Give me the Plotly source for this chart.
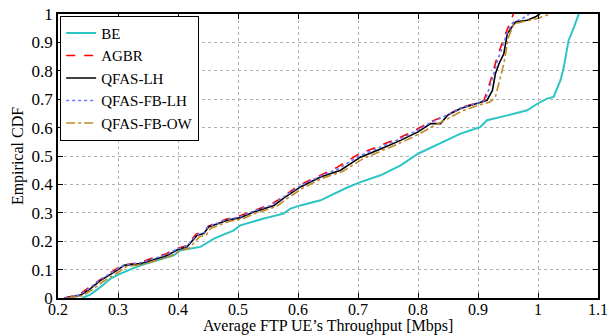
import plotly.graph_objects as go

# ---- Data ----
be_x = [0.24, 0.254, 0.271, 0.2875, 0.304, 0.3375, 0.365, 0.393, 0.404, 0.4375, 0.46, 0.493, 0.504,
        0.543, 0.576, 0.5875, 0.604, 0.6375, 0.682, 0.704, 0.7375, 0.771, 0.8, 0.8375, 0.871, 0.904,
        0.915, 0.949, 0.982, 0.999, 1.015, 1.026, 1.0375, 1.043, 1.051, 1.06, 1.068]
be_y = [0, 0.012, 0.039, 0.068, 0.086, 0.115, 0.133, 0.150, 0.168, 0.18, 0.209, 0.238, 0.256,
        0.28, 0.297, 0.315, 0.326, 0.344, 0.389, 0.408, 0.432, 0.467, 0.508, 0.544, 0.579, 0.602,
        0.626, 0.643, 0.661, 0.684, 0.702, 0.708, 0.767, 0.813, 0.907, 0.954, 1.0]

agbr_x = [0.21, 0.235, 0.25, 0.27, 0.295, 0.31, 0.335, 0.36, 0.38, 0.395, 0.415, 0.43, 0.445, 0.45,
          0.48, 0.5, 0.525, 0.555, 0.575, 0.6, 0.635, 0.665, 0.7, 0.735, 0.77, 0.795, 0.82, 0.85,
          0.87, 0.895, 0.91, 0.921, 0.932, 0.946, 0.959]
agbr_y = [0, 0.012, 0.035, 0.065, 0.1, 0.117, 0.124, 0.143, 0.155, 0.172, 0.185, 0.225, 0.235, 0.252,
          0.277, 0.287, 0.307, 0.33, 0.355, 0.395, 0.43, 0.46, 0.505, 0.535, 0.565, 0.59, 0.62, 0.645,
          0.67, 0.685, 0.696, 0.766, 0.849, 0.931, 1.0]

qlh_x = [0.2125, 0.2375, 0.254, 0.271, 0.299, 0.31, 0.3375, 0.365, 0.382, 0.399, 0.415, 0.432, 0.443,
         0.451, 0.482, 0.504, 0.526, 0.56, 0.575, 0.604, 0.6375, 0.671, 0.704, 0.7375, 0.771, 0.8,
         0.821, 0.8375, 0.849, 0.871, 0.899, 0.915, 0.924, 0.929, 0.935, 0.943, 0.949, 0.9625, 0.982,
         0.996, 1.003]
qlh_y = [0, 0.01, 0.033, 0.062, 0.098, 0.115, 0.121, 0.139, 0.150, 0.170, 0.18, 0.221, 0.227,
         0.25, 0.274, 0.283, 0.303, 0.326, 0.35, 0.391, 0.426, 0.45, 0.496, 0.525, 0.555, 0.585,
         0.614, 0.614, 0.643, 0.667, 0.684, 0.696, 0.731, 0.79, 0.825, 0.86, 0.931, 0.972, 0.978,
         0.99, 1.0]

qfblh_x = [0.211, 0.236, 0.252, 0.27, 0.297, 0.31, 0.336, 0.362, 0.381, 0.397, 0.415, 0.431, 0.444,
           0.45, 0.481, 0.502, 0.525, 0.557, 0.575, 0.602, 0.636, 0.667, 0.702, 0.736, 0.77, 0.797,
           0.82, 0.85, 0.87, 0.897, 0.912, 0.922, 0.934, 0.948, 0.958, 0.975, 0.985]
qfblh_y = [0, 0.011, 0.034, 0.064, 0.099, 0.116, 0.123, 0.141, 0.153, 0.171, 0.183, 0.223, 0.231,
           0.251, 0.276, 0.285, 0.305, 0.328, 0.353, 0.393, 0.428, 0.455, 0.5, 0.53, 0.56, 0.588,
           0.617, 0.645, 0.668, 0.685, 0.696, 0.76, 0.845, 0.93, 0.97, 0.985, 1.0]

qfbow_x = [0.216, 0.241, 0.258, 0.275, 0.303, 0.314, 0.341, 0.369, 0.386, 0.403, 0.419, 0.436, 0.447,
           0.455, 0.486, 0.508, 0.53, 0.564, 0.579, 0.608, 0.641, 0.675, 0.708, 0.741, 0.775, 0.804,
           0.825, 0.853, 0.875, 0.903, 0.92, 0.929, 0.943, 0.951, 0.96, 0.999, 1.021]
qfbow_y = [0, 0.008, 0.03, 0.058, 0.094, 0.111, 0.118, 0.135, 0.146, 0.166, 0.176, 0.216, 0.222,
           0.246, 0.27, 0.279, 0.299, 0.322, 0.346, 0.387, 0.422, 0.446, 0.49, 0.52, 0.55, 0.58,
           0.605, 0.635, 0.66, 0.68, 0.69, 0.708, 0.825, 0.919, 0.966, 0.984, 1.0]

x_ticks = [0.2, 0.3, 0.4, 0.5, 0.6, 0.7, 0.8, 0.9, 1.0, 1.1]
x_tick_labels = ["0.2", "0.3", "0.4", "0.5", "0.6", "0.7", "0.8", "0.9", "1", "1.1"]
y_ticks = [0, 0.1, 0.2, 0.3, 0.4, 0.5, 0.6, 0.7, 0.8, 0.9, 1.0]
y_tick_labels = ["0", "0.1", "0.2", "0.3", "0.4", "0.5", "0.6", "0.7", "0.8", "0.9", "1"]
x_title = "Average FTP UE’s Throughput [Mbps]"
y_title = "Empirical CDF"

FONT = "Liberation Serif"

fig = go.Figure()
fig.add_trace(go.Scatter(x=be_x, y=be_y, mode="lines", name="BE",
                         line=dict(color="#2cc4c4", width=2)))
fig.add_trace(go.Scatter(x=agbr_x, y=agbr_y, mode="lines", name="AGBR",
                         line=dict(color="#ff0000", width=1.6, dash="dash")))
fig.add_trace(go.Scatter(x=qlh_x, y=qlh_y, mode="lines", name="QFAS-LH",
                         line=dict(color="#000000", width=1.6)))
fig.add_trace(go.Scatter(x=qfblh_x, y=qfblh_y, mode="lines", name="QFAS-FB-LH",
                         line=dict(color="#7070ff", width=1.6, dash="dot")))
fig.add_trace(go.Scatter(x=qfbow_x, y=qfbow_y, mode="lines", name="QFAS-FB-OW",
                         line=dict(color="#c08a2a", width=1.6, dash="dashdot")))

fig.update_layout(
    width=616, height=335,
    margin=dict(l=58, r=18, t=14, b=37),
    paper_bgcolor="white", plot_bgcolor="white",
    font=dict(family=FONT, size=16, color="black"),
    showlegend=True,
    legend=dict(x=0.004, y=0.994, xanchor="left", yanchor="top",
                bgcolor="white", bordercolor="black", borderwidth=1,
                font=dict(family=FONT, size=15), tracegroupgap=0,
                itemwidth=30),
)
fig.add_annotation(text=x_title, xref="paper", yref="paper", x=0.5, y=-0.1,
                   xanchor="center", yanchor="middle", showarrow=False,
                   font=dict(family=FONT, size=16, color="black"))
fig.update_xaxes(range=[0.2, 1.1], tickvals=x_ticks, ticktext=x_tick_labels,
                 ticks="inside", ticklen=5, tickcolor="black", mirror="ticks",
                 showline=True, linecolor="black", linewidth=1.5, automargin=False,
                 showgrid=True, gridcolor="#b0b0b0", griddash="dot", gridwidth=1,
                 zeroline=False, tickfont=dict(family=FONT, size=16),
                 ticklabelstandoff=-4)
fig.update_yaxes(range=[0, 1], tickvals=y_ticks, ticktext=y_tick_labels,
                 ticks="inside", ticklen=5, tickcolor="black", mirror="ticks",
                 showline=True, linecolor="black", linewidth=1.5, automargin=False,
                 showgrid=True, gridcolor="#b0b0b0", griddash="dot", gridwidth=1,
                 zeroline=False, tickfont=dict(family=FONT, size=17),
                 title=dict(text=y_title, font=dict(family=FONT, size=16), standoff=4))

fig.write_html("out.html")
